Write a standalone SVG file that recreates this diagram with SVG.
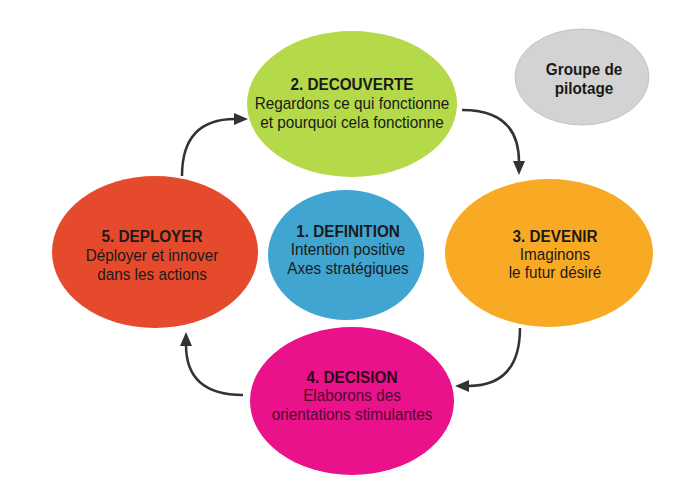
<svg xmlns="http://www.w3.org/2000/svg" width="700" height="492" viewBox="0 0 700 492">
<defs>
<marker id="ah" markerUnits="userSpaceOnUse" markerWidth="14" markerHeight="12" viewBox="0 0 14 12" refX="1" refY="6" orient="auto">
<path d="M0,0 L14,6 L0,12 z" fill="#333"/>
</marker>
</defs>
<style>
.t{font-family:"Liberation Sans",Arial,sans-serif;font-size:17px;fill:#1a1a1a;text-anchor:middle}
.b{font-weight:bold}
.c{fill:none;stroke:#333;stroke-width:2.5}
</style>
<rect width="700" height="492" fill="#ffffff"/>
<g id="connectors">
<path class="c" d="M182 176 Q182 119 235 119" marker-end="url(#ah)"/>
<path class="c" d="M462 110 Q519 110 519 162" marker-end="url(#ah)"/>
<path class="c" d="M520 328 Q520 386 468 386" marker-end="url(#ah)"/>
<path class="c" d="M243 395 Q186 395 186 345" marker-end="url(#ah)"/>
</g>
<g id="node-decouverte">
<ellipse cx="352" cy="104" rx="105" ry="73" fill="#b4d949"/>
<g transform="translate(352,0) scale(0.9,1)">
<text class="t b" x="0" y="90">2. DECOUVERTE</text>
<text class="t" x="0" y="109">Regardons ce qui fonctionne</text>
<text class="t" x="0" y="128">et pourquoi cela fonctionne</text>
</g>
</g>
<g id="node-definition">
<ellipse cx="346" cy="255" rx="78" ry="65" fill="#40a5d1"/>
<g transform="translate(348,0) scale(0.9,1)">
<text class="t b" x="0" y="237">1. DEFINITION</text>
<text class="t" x="0" y="255">Intention positive</text>
<text class="t" x="0" y="274">Axes stratégiques</text>
</g>
</g>
<g id="node-devenir">
<ellipse cx="549" cy="253" rx="104" ry="74" fill="#f9aa24"/>
<g transform="translate(555,0) scale(0.9,1)">
<text class="t b" x="0" y="242">3. DEVENIR</text>
<text class="t" x="0" y="260">Imaginons</text>
<text class="t" x="0" y="278">le futur désiré</text>
</g>
</g>
<g id="node-decision">
<ellipse cx="352" cy="401" rx="102" ry="74" fill="#ea128a"/>
<g transform="translate(352,0) scale(0.9,1)">
<text class="t b" x="0" y="383" style="fill:#2a0618">4. DECISION</text>
<text class="t" x="0" y="401" style="fill:#4a0a2c">Elaborons des</text>
<text class="t" x="0" y="420" style="fill:#4a0a2c">orientations stimulantes</text>
</g>
</g>
<g id="node-deployer">
<ellipse cx="155" cy="252" rx="103" ry="76" fill="#e64a2c"/>
<g transform="translate(152,0) scale(0.9,1)">
<text class="t b" x="0" y="242">5. DEPLOYER</text>
<text class="t" x="0" y="261">Déployer et innover</text>
<text class="t" x="0" y="280">dans les actions</text>
</g>
</g>
<g id="node-pilotage">
<ellipse cx="582" cy="77" rx="67" ry="48" fill="#d3d3d3" stroke="#c4c4c4" stroke-width="1"/>
<g transform="translate(584,0) scale(0.9,1)">
<text class="t b" x="0" y="75">Groupe de</text>
<text class="t b" x="0" y="94">pilotage</text>
</g>
</g>
</svg>
